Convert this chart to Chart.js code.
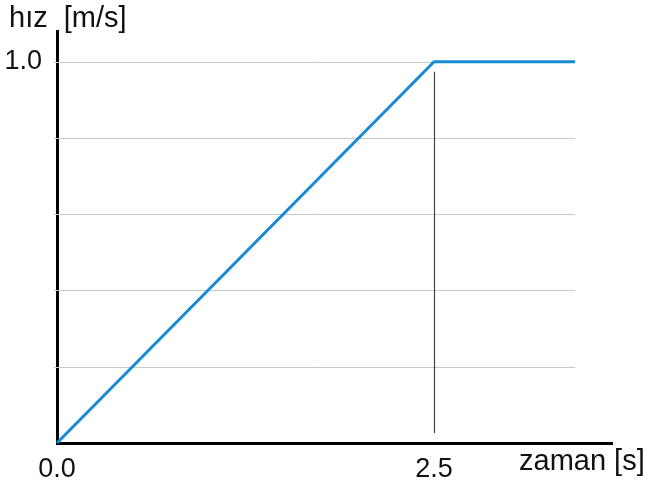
<!DOCTYPE html>
<html>
<head>
<meta charset="utf-8">
<script src="https://cdn.jsdelivr.net/npm/chart.js@4"></script>
<style>
html,body{margin:0;padding:0;background:#fff;}
#wrap{width:648px;height:488px;}
</style>
</head>
<body>
<div id="wrap"><canvas id="c" width="648" height="488"></canvas></div>
<script>
// Data
const timeValues  = [0, 2.5, 3.435];
const speedValues = [0, 1.0, 1.0];
const xTickValues = [0, 2.5];
const yTickValues = [1.0];
const yGridValues = [0.2, 0.4, 0.6, 0.8, 1.0];
const xAxisMax = 3.68;
const yAxisMax = 1.08;
const gridEndX = 3.435;
const markerX = 2.5;
const yTitle = 'hız  [m/s]';
const xTitle = 'zaman [s]';

const FONT = '"Liberation Sans", Arial, sans-serif';

const points = timeValues.map((t, i) => ({x: t, y: speedValues[i]}));

const extras = {
  id: 'extras',
  beforeDatasetsDraw(chart) {
    const ctx = chart.ctx;
    const xs = chart.scales.x, ys = chart.scales.y;
    ctx.save();
    ctx.strokeStyle = '#c9c9c9';
    ctx.lineWidth = 1;
    yGridValues.forEach(v => {
      const y = Math.round(ys.getPixelForValue(v)) + 0.5;
      ctx.beginPath();
      ctx.moveTo(xs.getPixelForValue(0) - 3, y);
      ctx.lineTo(xs.getPixelForValue(gridEndX), y);
      ctx.stroke();
    });
    // vertical marker at 2.5
    const mx = Math.round(xs.getPixelForValue(markerX)) + 0.5;
    ctx.strokeStyle = '#444';
    ctx.lineWidth = 1.2;
    ctx.beginPath();
    ctx.moveTo(mx, ys.getPixelForValue(1.0) + 10);
    ctx.lineTo(mx, ys.getPixelForValue(0) - 10);
    ctx.stroke();
    ctx.restore();
  },
  afterDraw(chart) {
    const ctx = chart.ctx;
    ctx.save();
    ctx.fillStyle = '#111';
    ctx.font = '29px ' + FONT;
    ctx.textBaseline = 'middle';
    ctx.textAlign = 'left';
    ctx.fillText(yTitle, 9, 19);
    ctx.fillText(xTitle, 519, 462);
    ctx.restore();
  }
};

new Chart(document.getElementById('c'), {
  type: 'line',
  data: {
    datasets: [{
      data: points,
      borderColor: 'rgb(22,138,214)',
      borderWidth: 3,
      pointRadius: 0,
      tension: 0,
      borderJoinStyle: 'round',
      fill: false,
      clip: false
    }]
  },
  options: {
    responsive: false,
    animation: false,
    events: [],
    layout: {padding: {left: 0, top: 31, right: 36, bottom: 0}},
    plugins: {legend: {display: false}, tooltip: {enabled: false}, title: {display: false}},
    scales: {
      x: {
        type: 'linear',
        min: 0,
        max: xAxisMax,
        afterBuildTicks: s => { s.ticks = xTickValues.map(v => ({value: v})); },
        afterFit: s => { s.height = 45; },
        ticks: {
          callback: v => Number(v).toFixed(1),
          font: {size: 27, family: FONT},
          color: '#111',
          padding: 10,
          maxRotation: 0,
          autoSkip: false
        },
        grid: {display: false, drawTicks: false},
        border: {display: true, color: '#000', width: 3}
      },
      y: {
        type: 'linear',
        min: 0,
        max: yAxisMax,
        afterBuildTicks: s => { s.ticks = yTickValues.map(v => ({value: v})); },
        afterFit: s => { s.width = 57; },
        ticks: {
          callback: v => Number(v).toFixed(1),
          font: {size: 27, family: FONT},
          color: '#111',
          padding: 15,
          autoSkip: false
        },
        grid: {display: false, drawTicks: false},
        border: {display: true, color: '#000', width: 3}
      }
    }
  },
  plugins: [extras]
});
</script>
</body>
</html>
